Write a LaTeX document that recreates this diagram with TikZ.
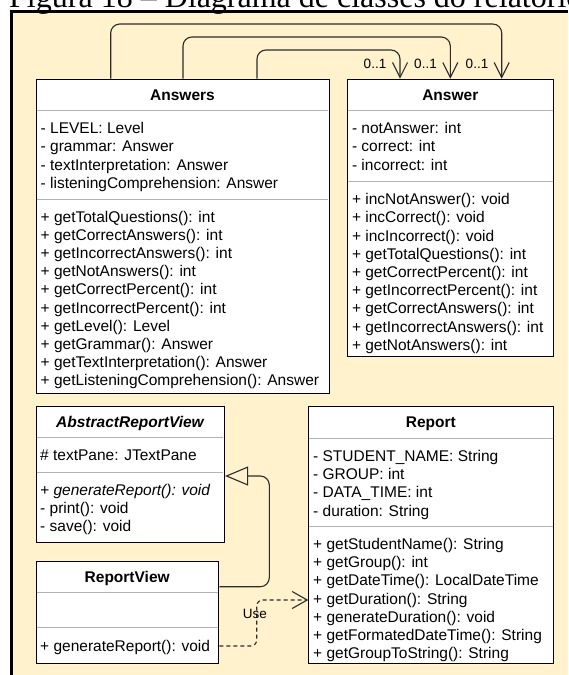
\documentclass[tikz,border=0pt]{standalone}
\usepackage{fontspec}
\setmainfont{Liberation Sans}
\newfontfamily\captionserif{Liberation Serif}
\usetikzlibrary{arrows.meta}
\definecolor{panelyellow}{HTML}{FFF2CC}
\definecolor{sepgray}{HTML}{B3B3B3}
\definecolor{linedark}{HTML}{2B2B2B}
\begin{document}
\begin{tikzpicture}[x=1pt,y=-1pt,
  classbox/.style={draw=black, line width=1.1pt, fill=white, inner sep=0pt, anchor=north west},
  sepline/.style={draw=sepgray, line width=1.2pt},
  classtitle/.style={anchor=base, inner sep=0pt, font=\fontsize{15.5}{18}\selectfont\bfseries},
  members/.style={anchor=north west, inner sep=0pt, align=left, font=\fontsize{15.5}{18.2}\selectfont},
  multlabel/.style={inner sep=0pt, font=\fontsize{13.5}{16}\selectfont},
  assoc/.style={draw=linedark, line width=1.1pt, rounded corners=9pt, -{Straight Barb[length=15pt,width=15pt]}},
  inherit/.style={draw=linedark, line width=1.1pt, rounded corners=9pt, -{Triangle[open,length=23pt,width=19pt]}},
  depend/.style={draw=linedark, line width=1.1pt, rounded corners=6pt, dash pattern=on 4pt off 3pt, -{Straight Barb[length=15pt,width=17pt]}}
]
\useasboundingbox (0,0) rectangle (568,675);
\clip (0,0) rectangle (568,675);

% page background and framed panel
\fill[white] (0,0) rectangle (568,675);
\fill[panelyellow] (11.7,11.3) rectangle (568,675);
\draw[line width=2.6pt] (10,11.3) -- (568,11.3);
\draw[line width=3.2pt] (11.7,10) -- (11.7,675);

% figure caption
\node[anchor=base west, inner sep=0pt, font=\captionserif\fontsize{32}{38}\selectfont] (caption) at (9,7) {Figura 18 – Diagrama de classes do relatório};

% ---------- class Answers ----------
\node[classbox, minimum width=293pt, minimum height=314pt] (answers) at (36,78.7) {};
\node[classtitle] (answers-title) at (182.5,100.2) {Answers};
\draw[sepline] (36.6,110.7) -- (328.4,110.7);
\draw[sepline] (36.6,199.3) -- (328.4,199.3);
\node[members] (answers-attrs) at (40.5,120.8) {\strut- LEVEL: Level\\- grammar: Answer\\- textInterpretation: Answer\\- listeningComprehension: Answer};
\node[members] (answers-ops) at (40.5,209.2) {\strut+ getTotalQuestions(): int\\+ getCorrectAnswers(): int\\+ getIncorrectAnswers(): int\\+ getNotAnswers(): int\\+ getCorrectPercent(): int\\+ getIncorrectPercent(): int\\+ getLevel(): Level\\+ getGrammar(): Answer\\+ getTextInterpretation(): Answer\\+ getListeningComprehension(): Answer};

% ---------- class Answer ----------
\node[classbox, minimum width=206pt, minimum height=277.3pt] (answer) at (347.3,78.7) {};
\node[classtitle] (answer-title) at (450.3,100.2) {Answer};
\draw[sepline] (347.9,110.7) -- (552.7,110.7);
\draw[sepline] (347.9,181.7) -- (552.7,181.7);
\node[members] (answer-attrs) at (351.8,120.8) {\strut- notAnswer: int\\- correct: int\\- incorrect: int};
\node[members] (answer-ops) at (351.8,191.8) {\strut+ incNotAnswer(): void\\+ incCorrect(): void\\+ incIncorrect(): void\\+ getTotalQuestions(): int\\+ getCorrectPercent(): int\\+ getIncorrectPercent(): int\\+ getCorrectAnswers(): int\\+ getIncorrectAnswers(): int\\+ getNotAnswers(): int};

% ---------- class AbstractReportView ----------
\node[classbox, minimum width=188pt, minimum height=136pt] (abstractview) at (36,405.7) {};
\node[classtitle, font=\fontsize{15.5}{18}\selectfont\bfseries\itshape] (abstractview-title) at (130,427.2) {AbstractReportView};
\draw[sepline] (36.6,437.7) -- (223.4,437.7);
\draw[sepline] (36.6,472.7) -- (223.4,472.7);
\node[members] (abstractview-attrs) at (40,447.5) {\strut\# textPane: JTextPane};
\node[members] (abstractview-ops) at (40,482.5) {\strut\textit{+ generateReport(): void}\\- print(): void\\- save(): void};

% ---------- class ReportView ----------
\node[classbox, minimum width=182.3pt, minimum height=102.6pt] (reportview) at (36,560.7) {};
\node[classtitle] (reportview-title) at (127.2,582.2) {ReportView};
\draw[sepline] (36.6,592.7) -- (217.7,592.7);
\draw[sepline] (36.6,627.7) -- (217.7,627.7);
\node[members] (reportview-ops) at (40,638.2) {\strut+ generateReport(): void};

% ---------- class Report ----------
\node[classbox, minimum width=245pt, minimum height=257.6pt] (report) at (308.3,405.7) {};
\node[classtitle] (report-title) at (430.8,427.2) {Report};
\draw[sepline] (308.9,438.3) -- (552.7,438.3);
\draw[sepline] (308.9,526.7) -- (552.7,526.7);
\node[members] (report-attrs) at (313,448.5) {\strut- STUDENT\_NAME: String\\- GROUP: int\\- DATA\_TIME: int\\- duration: String};
\node[members] (report-ops) at (313,536.5) {\strut+ getStudentName(): String\\+ getGroup(): int\\+ getDateTime(): LocalDateTime\\+ getDuration(): String\\+ generateDuration(): void\\+ getFormatedDateTime(): String\\+ getGroupToString(): String};

% ---------- associations Answers -> Answer ----------
\coordinate (outerA) at (110.7,24);   \coordinate (outerB) at (501.7,24);
\coordinate (middleA) at (183,37);    \coordinate (middleB) at (450.3,37);
\coordinate (innerA) at (257,50);     \coordinate (innerB) at (400,50);
\draw[assoc] (answers.north -| outerA) -- (outerA) -- (outerB) -- (answer.north -| outerB);
\draw[assoc] (answers.north -| middleA) -- (middleA) -- (middleB) -- (answer.north -| middleB);
\draw[assoc] (answers.north -| innerA) -- (innerA) -- (innerB) -- (answer.north -| innerB);
\node[multlabel] (mult-inner) at (375,63.5) {0..1};
\node[multlabel] (mult-middle) at (425.5,63.5) {0..1};
\node[multlabel] (mult-outer) at (477,63.5) {0..1};

% ---------- generalization ReportView -> AbstractReportView ----------
\coordinate (genLow) at (269.3,586.7);
\coordinate (genHigh) at (269.3,476);
\draw[inherit] (reportview.east |- genLow) -- (genLow) -- (genHigh) -- (abstractview.east |- genHigh);

% ---------- dependency ReportView -> Report ----------
\coordinate (depLow) at (256.7,646);
\coordinate (depHigh) at (256.7,600);
\draw[depend] (reportview.east |- depLow) -- (depLow) -- (depHigh) -- (report.west |- depHigh);
\node[multlabel] (use-label) at (255,614) {Use};
\end{tikzpicture}
\end{document}
